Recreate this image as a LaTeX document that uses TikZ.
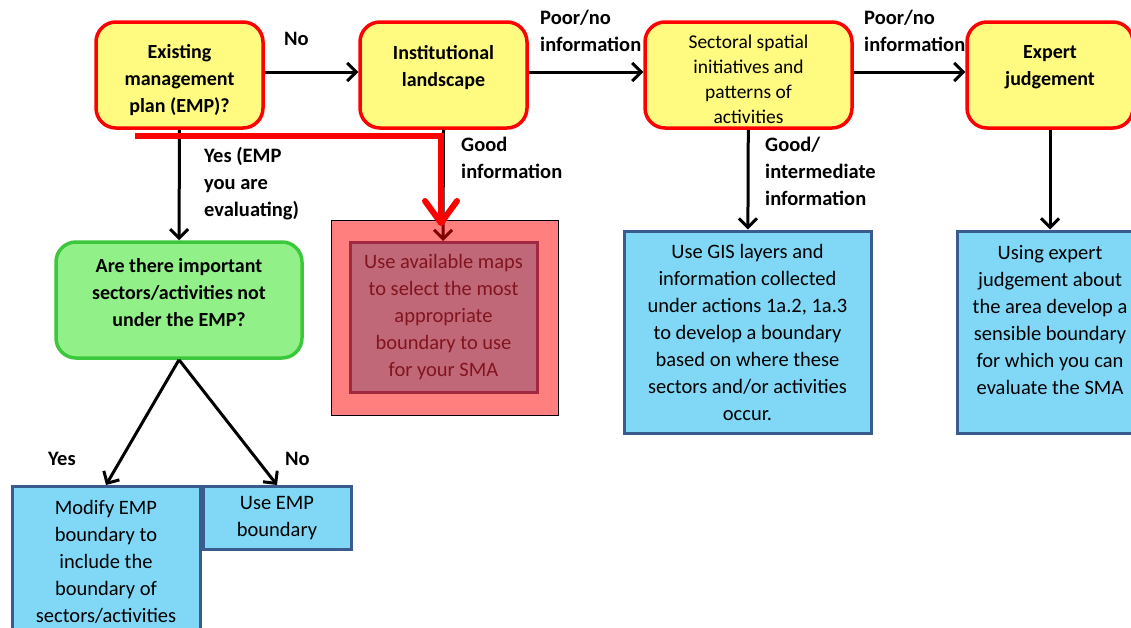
\documentclass[tikz,border=0pt]{standalone}
\usepackage{fontspec}
\setmainfont{Carlito}
\usepackage{xcolor}
\usepackage{tikz}
\usetikzlibrary{arrows.meta}

\definecolor{qyellow}{RGB}{255,250,128}
\definecolor{qgreen}{RGB}{146,240,136}
\definecolor{qgreenline}{RGB}{60,200,60}
\definecolor{qblue}{RGB}{128,216,246}
\definecolor{qblueline}{RGB}{58,92,140}
\definecolor{qrose}{RGB}{192,104,120}
\definecolor{qroseline}{RGB}{160,40,64}
\definecolor{qrosetext}{RGB}{130,20,30}

\tikzset{
  question/.style={draw=red, line width=3.5pt, fill=qyellow, rounded corners=20pt,
    align=center, inner sep=0pt, font=\fontsize{20}{27}\selectfont\bfseries},
  qtext/.style={align=center, inner sep=0pt, font=\fontsize{20}{27}\selectfont\bfseries},
  greenq/.style={question, draw=qgreenline, fill=qgreen},
  action/.style={draw=qblueline, line width=3pt, fill=qblue, align=center, inner sep=0pt,
    font=\fontsize{20.5}{27}\selectfont},
  lbl/.style={anchor=north west, align=left, inner sep=0pt, font=\fontsize{20.5}{27}\selectfont\bfseries},
  flow/.style={line width=3pt, -{Straight Barb[length=9pt,width=18pt,line width=3pt]}},
}

\begin{document}
\begin{tikzpicture}[x=1pt,y=-1pt]
  \useasboundingbox (0,0) rectangle (1131,627);
  \clip (0,0) rectangle (1131,627);
  \fill[white] (0,0) rectangle (1131,627);

  % top row of questions
  \node[question, minimum width=167pt, minimum height=106pt] (emp) at (179.5,75) {};
  \node[qtext] (emptext) at (179.5,80) {Existing\\management\\plan (EMP)?};
  \node[question, minimum width=167pt, minimum height=106pt] (inst) at (443.5,75)
    {Institutional\\landscape\\[-9pt]};
  \node[question, minimum width=207pt, minimum height=106pt] (sect) at (748.5,75) {};
  \node[qtext, font=\fontsize{19.5}{25}\selectfont] (secttext) at (748.5,79)
    {Sectoral spatial\\initiatives and\\patterns of\\activities};
  \node[question, minimum width=166pt, minimum height=106pt] (expert) at (1050,75)
    {Expert\\judgement\\[-9pt]};

  % second row
  \node[greenq, minimum width=246pt, minimum height=116pt] (sectq) at (179,300)
    {Are there important\\sectors/activities not\\under the EMP?\\[-11pt]};

  \node[action, minimum width=247pt, minimum height=202pt] (gis) at (747.5,332)
    {Use GIS layers and\\information collected\\under actions 1a.2, 1a.3\\to develop a boundary\\based on where these\\sectors and/or activities\\occur.};
  \node[action, minimum width=186pt, minimum height=202pt] (judge) at (1050,332)
    {Using expert\\judgement about\\the area develop a\\sensible boundary\\for which you can\\evaluate the SMA\\[-3pt]};

  \node[action, minimum width=188pt, minimum height=150pt, anchor=north] (modify) at (106,485)
    {Modify EMP\\boundary to\\include the\\boundary of\\sectors/activities};
  \node[action, minimum width=148pt, minimum height=63pt, anchor=north] (useemp) at (277,485)
    {Use EMP\\boundary};

  % connectors
  \draw[flow] ([yshift=3pt]emp.east) -- ([yshift=3pt]inst.west);
  \draw[flow] ([yshift=3pt]inst.east) -- ([yshift=3pt]sect.west);
  \draw[flow] ([yshift=3pt]sect.east) -- ([yshift=3pt]expert.west);
  \draw[flow] (emp) -- (sectq);
  \draw[flow] (sect) -- (gis);
  \draw[flow] (expert) -- (judge);
  \draw[flow] (sectq.south) -- (modify.north);
  \draw[flow] (sectq.south) -- (useemp.north);

  \coordinate (tipgood) at (443,241);
  \draw[flow] (inst.south) -- (tipgood);

  % highlighted choice
  \node[draw=black, line width=0.8pt, fill=red, fill opacity=0.5, draw opacity=1,
    minimum width=227pt, minimum height=195pt, inner sep=0pt] (maps) at (444.5,317.5) {};
  \node[draw=qroseline, line width=3pt, fill=qrose, minimum width=187pt, minimum height=150pt,
    inner sep=0pt, align=center, text=qrosetext, font=\fontsize{20.5}{27}\selectfont] (mapsin) at (443.5,317)
    {Use available maps\\to select the most\\appropriate\\boundary to use\\for your SMA};

  \coordinate (hlstart) at (135,136);
  \coordinate (hltip) at (441,226);
  \draw[red, line width=6pt, line join=miter,
    -{Straight Barb[length=22pt,width=32pt,line width=6pt,round]}] (hlstart) -| (hltip);

  % labels
  \node[lbl] (lno) at (284,32) {No};
  \node[lbl] (lpoor1) at (540,10) {Poor/no\\information};
  \node[lbl] (lpoor2) at (864,10) {Poor/no\\information};
  \node[lbl] (lyes) at (204,147) {Yes (EMP\\you are\\evaluating)};
  \node[lbl] (lgood) at (461,137) {Good\\information};
  \node[lbl] (lgood2) at (765,137) {Good/\\intermediate\\information};
  \node[lbl] (lyes2) at (48,452) {Yes};
  \node[lbl] (lno2) at (285,452) {No};
\end{tikzpicture}
\end{document}
